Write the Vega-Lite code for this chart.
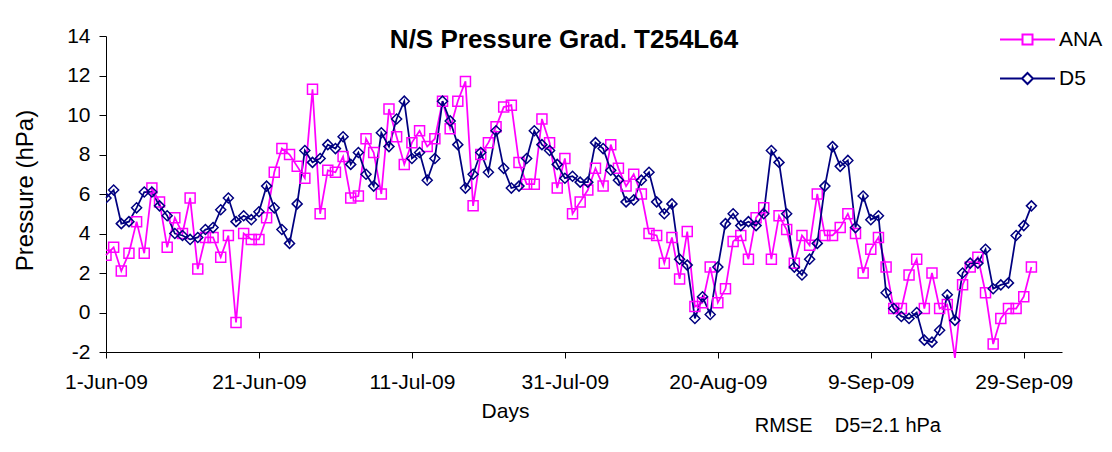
{
  "$schema": "https://vega.github.io/schema/vega-lite/v6.json",
  "width": 956,
  "height": 316,
  "autosize": {"type": "none"},
  "padding": {"left": 106, "top": 36, "right": 50, "bottom": 100},
  "background": "#ffffff",
  "config": {"view": {"stroke": null}, "font": "Liberation Sans"},
  "title": {"text": "N/S Pressure Grad. T254L64", "fontSize": 26, "fontWeight": "bold", "font": "Liberation Sans", "color": "#000000", "anchor": "middle", "frame": "group", "dx": -20, "offset": 0, "baseline": "alphabetic", "dy": 49},
  "datasets": {
    "pts": [
      {"date":"2009-06-01","series":"ANA","value":2.9},{"date":"2009-06-02","series":"ANA","value":3.3},{"date":"2009-06-03","series":"ANA","value":2.1},{"date":"2009-06-04","series":"ANA","value":3.0},{"date":"2009-06-05","series":"ANA","value":4.6},{"date":"2009-06-06","series":"ANA","value":3.0},{"date":"2009-06-07","series":"ANA","value":6.3},{"date":"2009-06-08","series":"ANA","value":5.6},{"date":"2009-06-09","series":"ANA","value":3.3},{"date":"2009-06-10","series":"ANA","value":4.8},
      {"date":"2009-06-11","series":"ANA","value":4.0},{"date":"2009-06-12","series":"ANA","value":5.8},{"date":"2009-06-13","series":"ANA","value":2.2},{"date":"2009-06-14","series":"ANA","value":3.8},{"date":"2009-06-15","series":"ANA","value":3.8},{"date":"2009-06-16","series":"ANA","value":2.8},{"date":"2009-06-17","series":"ANA","value":3.9},{"date":"2009-06-18","series":"ANA","value":-0.5},{"date":"2009-06-19","series":"ANA","value":4.0},{"date":"2009-06-20","series":"ANA","value":3.7},
      {"date":"2009-06-21","series":"ANA","value":3.7},{"date":"2009-06-22","series":"ANA","value":4.8},{"date":"2009-06-23","series":"ANA","value":7.1},{"date":"2009-06-24","series":"ANA","value":8.3},{"date":"2009-06-25","series":"ANA","value":8.0},{"date":"2009-06-26","series":"ANA","value":7.4},{"date":"2009-06-27","series":"ANA","value":6.8},{"date":"2009-06-28","series":"ANA","value":11.3},{"date":"2009-06-29","series":"ANA","value":5.0},{"date":"2009-06-30","series":"ANA","value":7.2},
      {"date":"2009-07-01","series":"ANA","value":7.1},{"date":"2009-07-02","series":"ANA","value":7.9},{"date":"2009-07-03","series":"ANA","value":5.8},{"date":"2009-07-04","series":"ANA","value":5.9},{"date":"2009-07-05","series":"ANA","value":8.8},{"date":"2009-07-06","series":"ANA","value":8.1},{"date":"2009-07-07","series":"ANA","value":6.0},{"date":"2009-07-08","series":"ANA","value":10.3},{"date":"2009-07-09","series":"ANA","value":8.9},{"date":"2009-07-10","series":"ANA","value":7.5},
      {"date":"2009-07-11","series":"ANA","value":8.6},{"date":"2009-07-12","series":"ANA","value":9.2},{"date":"2009-07-13","series":"ANA","value":8.4},{"date":"2009-07-14","series":"ANA","value":8.8},{"date":"2009-07-15","series":"ANA","value":10.7},{"date":"2009-07-16","series":"ANA","value":9.3},{"date":"2009-07-17","series":"ANA","value":10.7},{"date":"2009-07-18","series":"ANA","value":11.7},{"date":"2009-07-19","series":"ANA","value":5.4},{"date":"2009-07-20","series":"ANA","value":8.0},
      {"date":"2009-07-21","series":"ANA","value":8.6},{"date":"2009-07-22","series":"ANA","value":9.4},{"date":"2009-07-23","series":"ANA","value":10.4},{"date":"2009-07-24","series":"ANA","value":10.5},{"date":"2009-07-25","series":"ANA","value":7.6},{"date":"2009-07-26","series":"ANA","value":6.5},{"date":"2009-07-27","series":"ANA","value":6.5},{"date":"2009-07-28","series":"ANA","value":9.8},{"date":"2009-07-29","series":"ANA","value":8.6},{"date":"2009-07-30","series":"ANA","value":6.3},
      {"date":"2009-07-31","series":"ANA","value":7.8},{"date":"2009-08-01","series":"ANA","value":5.0},{"date":"2009-08-02","series":"ANA","value":5.6},{"date":"2009-08-03","series":"ANA","value":6.2},{"date":"2009-08-04","series":"ANA","value":7.3},{"date":"2009-08-05","series":"ANA","value":6.4},{"date":"2009-08-06","series":"ANA","value":8.5},{"date":"2009-08-07","series":"ANA","value":7.3},{"date":"2009-08-08","series":"ANA","value":6.4},{"date":"2009-08-09","series":"ANA","value":7.0},
      {"date":"2009-08-10","series":"ANA","value":6.0},{"date":"2009-08-11","series":"ANA","value":4.0},{"date":"2009-08-12","series":"ANA","value":3.9},{"date":"2009-08-13","series":"ANA","value":2.5},{"date":"2009-08-14","series":"ANA","value":3.8},{"date":"2009-08-15","series":"ANA","value":1.7},{"date":"2009-08-16","series":"ANA","value":4.1},{"date":"2009-08-17","series":"ANA","value":0.3},{"date":"2009-08-18","series":"ANA","value":0.5},{"date":"2009-08-19","series":"ANA","value":2.3},
      {"date":"2009-08-20","series":"ANA","value":0.5},{"date":"2009-08-21","series":"ANA","value":1.2},{"date":"2009-08-22","series":"ANA","value":3.6},{"date":"2009-08-23","series":"ANA","value":3.9},{"date":"2009-08-24","series":"ANA","value":2.7},{"date":"2009-08-25","series":"ANA","value":4.8},{"date":"2009-08-26","series":"ANA","value":5.3},{"date":"2009-08-27","series":"ANA","value":2.7},{"date":"2009-08-28","series":"ANA","value":4.9},{"date":"2009-08-29","series":"ANA","value":4.2},
      {"date":"2009-08-30","series":"ANA","value":2.5},{"date":"2009-08-31","series":"ANA","value":3.9},{"date":"2009-09-01","series":"ANA","value":3.4},{"date":"2009-09-02","series":"ANA","value":6.0},{"date":"2009-09-03","series":"ANA","value":3.9},{"date":"2009-09-04","series":"ANA","value":3.9},{"date":"2009-09-05","series":"ANA","value":4.3},{"date":"2009-09-06","series":"ANA","value":5.0},{"date":"2009-09-07","series":"ANA","value":4.0},{"date":"2009-09-08","series":"ANA","value":2.0},
      {"date":"2009-09-09","series":"ANA","value":3.2},{"date":"2009-09-10","series":"ANA","value":3.8},{"date":"2009-09-11","series":"ANA","value":2.3},{"date":"2009-09-12","series":"ANA","value":0.2},{"date":"2009-09-13","series":"ANA","value":0.2},{"date":"2009-09-14","series":"ANA","value":1.9},{"date":"2009-09-15","series":"ANA","value":2.7},{"date":"2009-09-16","series":"ANA","value":0.2},{"date":"2009-09-17","series":"ANA","value":2.0},{"date":"2009-09-18","series":"ANA","value":0.2},
      {"date":"2009-09-19","series":"ANA","value":0.4},{"date":"2009-09-20","series":"ANA","value":-2.3},{"date":"2009-09-21","series":"ANA","value":1.4},{"date":"2009-09-22","series":"ANA","value":2.3},{"date":"2009-09-23","series":"ANA","value":2.8},{"date":"2009-09-24","series":"ANA","value":1.0},{"date":"2009-09-25","series":"ANA","value":-1.6},{"date":"2009-09-26","series":"ANA","value":-0.3},{"date":"2009-09-27","series":"ANA","value":0.2},{"date":"2009-09-28","series":"ANA","value":0.2},
      {"date":"2009-09-29","series":"ANA","value":0.8},{"date":"2009-09-30","series":"ANA","value":2.3},
      {"date":"2009-06-01","series":"D5","value":5.8},{"date":"2009-06-02","series":"D5","value":6.2},{"date":"2009-06-03","series":"D5","value":4.5},{"date":"2009-06-04","series":"D5","value":4.6},{"date":"2009-06-05","series":"D5","value":5.3},{"date":"2009-06-06","series":"D5","value":6.1},{"date":"2009-06-07","series":"D5","value":6.1},{"date":"2009-06-08","series":"D5","value":5.4},{"date":"2009-06-09","series":"D5","value":4.9},{"date":"2009-06-10","series":"D5","value":4.0},
      {"date":"2009-06-11","series":"D5","value":3.9},{"date":"2009-06-12","series":"D5","value":3.7},{"date":"2009-06-13","series":"D5","value":3.8},{"date":"2009-06-14","series":"D5","value":4.2},{"date":"2009-06-15","series":"D5","value":4.3},{"date":"2009-06-16","series":"D5","value":5.2},{"date":"2009-06-17","series":"D5","value":5.8},{"date":"2009-06-18","series":"D5","value":4.6},{"date":"2009-06-19","series":"D5","value":4.9},{"date":"2009-06-20","series":"D5","value":4.7},
      {"date":"2009-06-21","series":"D5","value":5.1},{"date":"2009-06-22","series":"D5","value":6.4},{"date":"2009-06-23","series":"D5","value":5.3},{"date":"2009-06-24","series":"D5","value":4.2},{"date":"2009-06-25","series":"D5","value":3.5},{"date":"2009-06-26","series":"D5","value":5.5},{"date":"2009-06-27","series":"D5","value":8.2},{"date":"2009-06-28","series":"D5","value":7.6},{"date":"2009-06-29","series":"D5","value":7.8},{"date":"2009-06-30","series":"D5","value":8.5},
      {"date":"2009-07-01","series":"D5","value":8.3},{"date":"2009-07-02","series":"D5","value":8.9},{"date":"2009-07-03","series":"D5","value":7.5},{"date":"2009-07-04","series":"D5","value":8.1},{"date":"2009-07-05","series":"D5","value":7.0},{"date":"2009-07-06","series":"D5","value":6.4},{"date":"2009-07-07","series":"D5","value":9.1},{"date":"2009-07-08","series":"D5","value":8.4},{"date":"2009-07-09","series":"D5","value":9.8},{"date":"2009-07-10","series":"D5","value":10.7},
      {"date":"2009-07-11","series":"D5","value":7.8},{"date":"2009-07-12","series":"D5","value":8.1},{"date":"2009-07-13","series":"D5","value":6.7},{"date":"2009-07-14","series":"D5","value":7.8},{"date":"2009-07-15","series":"D5","value":10.7},{"date":"2009-07-16","series":"D5","value":9.7},{"date":"2009-07-17","series":"D5","value":8.5},{"date":"2009-07-18","series":"D5","value":6.3},{"date":"2009-07-19","series":"D5","value":7.0},{"date":"2009-07-20","series":"D5","value":8.1},
      {"date":"2009-07-21","series":"D5","value":7.1},{"date":"2009-07-22","series":"D5","value":9.2},{"date":"2009-07-23","series":"D5","value":7.3},{"date":"2009-07-24","series":"D5","value":6.3},{"date":"2009-07-25","series":"D5","value":6.4},{"date":"2009-07-26","series":"D5","value":7.8},{"date":"2009-07-27","series":"D5","value":9.2},{"date":"2009-07-28","series":"D5","value":8.5},{"date":"2009-07-29","series":"D5","value":8.2},{"date":"2009-07-30","series":"D5","value":7.5},
      {"date":"2009-07-31","series":"D5","value":6.8},{"date":"2009-08-01","series":"D5","value":6.9},{"date":"2009-08-02","series":"D5","value":6.6},{"date":"2009-08-03","series":"D5","value":6.6},{"date":"2009-08-04","series":"D5","value":8.6},{"date":"2009-08-05","series":"D5","value":8.3},{"date":"2009-08-06","series":"D5","value":7.2},{"date":"2009-08-07","series":"D5","value":6.7},{"date":"2009-08-08","series":"D5","value":5.6},{"date":"2009-08-09","series":"D5","value":5.7},
      {"date":"2009-08-10","series":"D5","value":6.7},{"date":"2009-08-11","series":"D5","value":7.1},{"date":"2009-08-12","series":"D5","value":5.6},{"date":"2009-08-13","series":"D5","value":5.0},{"date":"2009-08-14","series":"D5","value":5.5},{"date":"2009-08-15","series":"D5","value":2.7},{"date":"2009-08-16","series":"D5","value":2.4},{"date":"2009-08-17","series":"D5","value":-0.3},{"date":"2009-08-18","series":"D5","value":0.8},{"date":"2009-08-19","series":"D5","value":-0.1},
      {"date":"2009-08-20","series":"D5","value":2.3},{"date":"2009-08-21","series":"D5","value":4.5},{"date":"2009-08-22","series":"D5","value":5.0},{"date":"2009-08-23","series":"D5","value":4.4},{"date":"2009-08-24","series":"D5","value":4.6},{"date":"2009-08-25","series":"D5","value":4.4},{"date":"2009-08-26","series":"D5","value":5.0},{"date":"2009-08-27","series":"D5","value":8.2},{"date":"2009-08-28","series":"D5","value":7.6},{"date":"2009-08-29","series":"D5","value":5.0},
      {"date":"2009-08-30","series":"D5","value":2.3},{"date":"2009-08-31","series":"D5","value":1.9},{"date":"2009-09-01","series":"D5","value":2.7},{"date":"2009-09-02","series":"D5","value":3.5},{"date":"2009-09-03","series":"D5","value":6.4},{"date":"2009-09-04","series":"D5","value":8.4},{"date":"2009-09-05","series":"D5","value":7.4},{"date":"2009-09-06","series":"D5","value":7.7},{"date":"2009-09-07","series":"D5","value":4.3},{"date":"2009-09-08","series":"D5","value":5.9},
      {"date":"2009-09-09","series":"D5","value":4.7},{"date":"2009-09-10","series":"D5","value":4.9},{"date":"2009-09-11","series":"D5","value":1.0},{"date":"2009-09-12","series":"D5","value":0.2},{"date":"2009-09-13","series":"D5","value":-0.2},{"date":"2009-09-14","series":"D5","value":-0.3},{"date":"2009-09-15","series":"D5","value":0.0},{"date":"2009-09-16","series":"D5","value":-1.4},{"date":"2009-09-17","series":"D5","value":-1.5},{"date":"2009-09-18","series":"D5","value":-0.9},
      {"date":"2009-09-19","series":"D5","value":0.9},{"date":"2009-09-20","series":"D5","value":-0.4},{"date":"2009-09-21","series":"D5","value":2.0},{"date":"2009-09-22","series":"D5","value":2.5},{"date":"2009-09-23","series":"D5","value":2.5},{"date":"2009-09-24","series":"D5","value":3.2},{"date":"2009-09-25","series":"D5","value":1.2},{"date":"2009-09-26","series":"D5","value":1.4},{"date":"2009-09-27","series":"D5","value":1.5},{"date":"2009-09-28","series":"D5","value":3.9},
      {"date":"2009-09-29","series":"D5","value":4.4},{"date":"2009-09-30","series":"D5","value":5.4}
    ],
    "note": [{"date": "2009-09-06", "value": -5.75, "label": "RMSE\u00a0\u00a0\u00a0\u00a0D5=2.1 hPa"}]
  },
  "encoding": {
    "x": {
      "field": "date", "type": "temporal",
      "scale": {"type": "utc", "domain": [{"year": 2009, "month": 6, "date": 1, "utc": true}, {"year": 2009, "month": 10, "date": 4, "utc": true}]},
      "axis": {
        "values": [{"year": 2009, "month": 6, "date": 1, "utc": true}, {"year": 2009, "month": 6, "date": 21, "utc": true}, {"year": 2009, "month": 7, "date": 11, "utc": true}, {"year": 2009, "month": 7, "date": 31, "utc": true}, {"year": 2009, "month": 8, "date": 20, "utc": true}, {"year": 2009, "month": 9, "date": 9, "utc": true}, {"year": 2009, "month": 9, "date": 29, "utc": true}],
        "labelExpr": "utcFormat(datum.value, '%-d-%b-%y')", "grid": false,
        "labelFontSize": 21, "labelFont": "Liberation Sans", "labelColor": "#000000", "labelPadding": 13, "labelFlush": false, "labelOverlap": false,
        "tickSize": 6, "tickColor": "#000000", "domainColor": "#000000",
        "title": "Days", "titleFont": "Liberation Sans", "titleFontSize": 21, "titleFontWeight": "normal", "titleColor": "#000000",
        "titleX": 399, "titleY": 59, "titleBaseline": "middle", "titleAlign": "center"
      }
    },
    "y": {
      "field": "value", "type": "quantitative",
      "scale": {"domain": [-2, 14], "nice": false, "zero": false},
      "axis": {
        "values": [-2, 0, 2, 4, 6, 8, 10, 12, 14], "labelExpr": "'' + datum.value", "grid": false,
        "labelFontSize": 21, "labelFont": "Liberation Sans", "labelColor": "#000000", "labelPadding": 9, "labelFlush": false, "labelOverlap": false,
        "tickSize": 7, "tickColor": "#000000", "domainColor": "#000000",
        "title": "Pressure (hPa)", "titleFont": "Liberation Sans", "titleFontSize": 24, "titleFontWeight": "normal", "titleColor": "#000000",
        "titleX": -81, "titleY": 154, "titleBaseline": "middle", "titleAlign": "center", "titleAngle": -90
      }
    }
  },
  "resolve": {"scale": {"color": "independent"}, "legend": {"color": "independent"}},
  "layer": [
    {
      "data": {"name": "pts"},
      "mark": {"type": "line", "strokeWidth": 1.75},
      "encoding": {
        "color": {
          "field": "series", "type": "nominal",
          "scale": {"domain": ["ANA", "D5"], "range": ["#FF00FF", "#000080"]},
          "legend": {
            "title": null, "orient": "none", "legendX": 911, "legendY": -7,
            "labelFontSize": 21, "labelFont": "Liberation Sans", "labelColor": "#000000", "labelOffset": 21,
            "symbolSize": 100, "symbolStrokeWidth": 2, "rowPadding": 17,
            "encode": {"symbols": {"update": {
              "shape": {"signal": "datum.value === 'ANA' ? 'M-5.5,0H-1M1,0H5.5M-1,-1H1V1H-1Z' : 'M-5.5,0H-1.1M1.1,0H5.5M0,-1.1L1.1,0L0,1.1L-1.1,0Z'"},
              "fill": {"value": "transparent"},
              "strokeWidth": {"value": 2}
            }}}
          }
        }
      }
    },
    {
      "data": {"name": "pts"},
      "mark": {"type": "point", "filled": false, "opacity": 1, "strokeWidth": 1.5, "size": 100, "clip": true},
      "encoding": {
        "color": {"field": "series", "type": "nominal", "scale": {"domain": ["ANA", "D5"], "range": ["#FF00FF", "#000080"]}, "legend": null},
        "shape": {"field": "series", "type": "nominal", "scale": {"domain": ["ANA", "D5"], "range": ["square", "diamond"]}, "legend": null}
      }
    },
    {
      "data": {"name": "note"},
      "mark": {"type": "text", "fontSize": 20, "font": "Liberation Sans", "align": "center", "baseline": "middle", "color": "#000000"},
      "encoding": {"text": {"field": "label"}}
    }
  ]
}
